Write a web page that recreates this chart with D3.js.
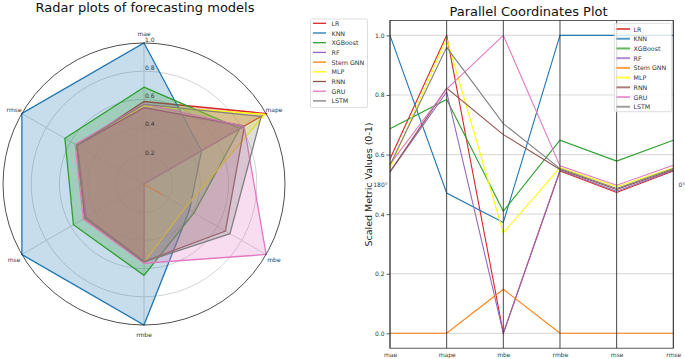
<!DOCTYPE html>
<html>
<head>
<meta charset="utf-8">
<script src="https://cdn.jsdelivr.net/npm/d3@7"></script>
<style>
    body { margin: 0; background: #fff; }
    text { font-family: "DejaVu Sans", sans-serif; }
</style>
</head>
<body>
<div id="chart-area"></div>
<script>

// metrics (axes), models and scaled values
var metrics = ["mae", "mape", "mbe", "rmbe", "mse", "rmse"];
var models = ["LR", "KNN", "XGBoost", "RF", "Stem GNN", "MLP", "RNN", "GRU", "LSTM"];
var colors = ["#d62728", "#1f77b4", "#2ca02c", "#9467bd", "#ff7f0e", "#ffff00", "#8c564b", "#e377c2", "#7f7f7f"];

var lrValues      = [0.585, 1.00, 0.000, 0.545, 0.473, 0.545];
var knnValues     = [1.000, 0.471, 0.372, 1.000, 1.000, 1.000];
var xgbValues     = [0.687, 0.785, 0.410, 0.648, 0.578, 0.648];
var rfValues      = [0.542, 0.810, 0.000, 0.547, 0.477, 0.547];
var stemGnnValues = [0.000, 0.000, 0.148, 0.000, 0.000, 0.000];
var mlpValues     = [0.555, 0.990, 0.337, 0.556, 0.492, 0.556];
var rnnValues     = [0.542, 0.823, 0.667, 0.550, 0.483, 0.550];
var gruValues     = [0.568, 0.820, 1.000, 0.562, 0.497, 0.564];
var lstmValues    = [0.565, 0.960, 0.704, 0.553, 0.486, 0.553];

var radialTicks = [0.2, 0.4, 0.6, 0.8, 1.0];
var yTicks = [0.0, 0.2, 0.4, 0.6, 0.8, 1.0];

var series = [lrValues, knnValues, xgbValues, rfValues, stemGnnValues,
              mlpValues, rnnValues, gruValues, lstmValues];

var data = models.map(function(m, i) {
    return { name: m, color: colors[i], values: series[i] };
});

var svg = d3.select("#chart-area")
    .append("svg")
        .attr("width", 685)
        .attr("height", 359);

/* ---------------- Radar ---------------- */

var cx = 144, cy = 184, R = 141;

var r = d3.scaleLinear().domain([0, 1]).range([0, R]);
var angle = d3.scalePoint().domain(metrics).range([0, 2 * Math.PI * 5 / 6]);

var radar = svg.append("g")
    .attr("transform", "translate(" + cx + "," + cy + ")");

// title
svg.append("text")
    .attr("x", 145)
    .attr("y", 12)
    .attr("text-anchor", "middle")
    .attr("font-size", "13px")
    .attr("fill", "#111")
    .text("Radar plots of forecasting models");

// grid circles
radar.selectAll(".grid")
    .data(radialTicks.slice(0, 4))
    .enter().append("circle")
        .attr("r", d => r(d))
        .attr("fill", "none")
        .attr("stroke", "#c8c8c8")
        .attr("stroke-width", 0.8);

// spokes
radar.selectAll(".spoke")
    .data(metrics)
    .enter().append("line")
        .attr("x1", 0).attr("y1", 0)
        .attr("x2", d => r(1) * Math.sin(angle(d)))
        .attr("y2", d => -r(1) * Math.cos(angle(d)))
        .attr("stroke", "#c8c8c8")
        .attr("stroke-width", 0.8);

var radarLine = d3.lineRadial()
    .angle((d, i) => angle(metrics[i]))
    .radius(d => r(d))
    .curve(d3.curveLinearClosed);

radar.selectAll(".model")
    .data(data)
    .enter().append("path")
        .attr("d", d => radarLine(d.values))
        .attr("fill", d => d.color)
        .attr("fill-opacity", 0.25)
        .attr("stroke", d => d.color)
        .attr("stroke-width", 1.3)
        .attr("stroke-linejoin", "miter");

// outer spine
radar.append("circle")
    .attr("r", r(1))
    .attr("fill", "none")
    .attr("stroke", "#222")
    .attr("stroke-width", 0.8);

// radial tick labels
radar.selectAll(".rlabel")
    .data(radialTicks)
    .enter().append("text")
        .attr("x", 1)
        .attr("y", d => -r(d) - 1.3)
        .attr("font-size", "6px")
        .attr("fill", "#333")
        .text(d3.format(".1f"));

// metric labels
radar.selectAll(".mlabel")
    .data(metrics)
    .enter().append("text")
        .attr("x", d => r(1.064) * Math.sin(angle(d)))
        .attr("y", d => -r(1.064) * Math.cos(angle(d)))
        .attr("text-anchor", "middle")
        .attr("dominant-baseline", "central")
        .attr("font-size", "6px")
        .attr("fill", "#333")
        .text(d => d);

// radar legend
var leg1 = svg.append("g");
leg1.append("rect")
    .attr("x", 310.5).attr("y", 19)
    .attr("width", 57).attr("height", 88.5)
    .attr("rx", 1.5)
    .attr("fill", "#fff")
    .attr("stroke", "#d0d0d0")
    .attr("stroke-width", 0.7);

var leg1Items = leg1.selectAll(".item")
    .data(data)
    .enter().append("g")
        .attr("transform", (d, i) => "translate(0," + (23.3 + i * 9.7) + ")");

leg1Items.append("line")
    .attr("x1", 313).attr("x2", 326)
    .attr("stroke", d => d.color)
    .attr("stroke-width", 1.3);

leg1Items.append("text")
    .attr("x", 331.5)
    .attr("dominant-baseline", "central")
    .attr("font-size", "6.3px")
    .attr("fill", "#333")
    .text(d => d.name);

/* ---------------- Parallel coordinates ---------------- */

var pLeft = 390, pRight = 673.3, pTop = 20.5, pBottom = 348.2;

var x = d3.scalePoint().domain(metrics).range([pLeft, pRight]);
var y = d3.scaleLinear().domain([-0.05, 1.05]).range([pBottom, pTop]);

var par = svg.append("g");

svg.append("text")
    .attr("x", 528.5)
    .attr("y", 16)
    .attr("text-anchor", "middle")
    .attr("font-size", "13px")
    .attr("fill", "#111")
    .text("Parallel Coordinates Plot");

// leftover polar angle labels
svg.append("text")
    .attr("x", 380.5).attr("y", 184)
    .attr("text-anchor", "middle")
    .attr("dominant-baseline", "central")
    .attr("font-size", "6px")
    .attr("fill", "#333")
    .text("180°");
svg.append("text")
    .attr("x", 682).attr("y", 184)
    .attr("text-anchor", "middle")
    .attr("dominant-baseline", "central")
    .attr("font-size", "6px")
    .attr("fill", "#333")
    .text("0°");

// horizontal grid
par.selectAll(".hgrid")
    .data(yTicks)
    .enter().append("line")
        .attr("x1", pLeft).attr("x2", pRight)
        .attr("y1", d => y(d)).attr("y2", d => y(d))
        .attr("stroke", "#dcdcdc")
        .attr("stroke-width", 1.2);

// model lines
var pline = d3.line()
    .x((d, i) => x(metrics[i]))
    .y(d => y(d));

par.selectAll(".pline")
    .data(data)
    .enter().append("path")
        .attr("d", d => pline(d.values))
        .attr("fill", "none")
        .attr("stroke", d => d.color)
        .attr("stroke-width", 1.1);

// vertical axes
par.selectAll(".vaxis")
    .data(metrics)
    .enter().append("line")
        .attr("x1", d => x(d)).attr("x2", d => x(d))
        .attr("y1", pTop).attr("y2", pBottom)
        .attr("stroke", "#333")
        .attr("stroke-width", 0.9);

// frame
par.append("rect")
    .attr("x", pLeft).attr("y", pTop)
    .attr("width", pRight - pLeft).attr("height", pBottom - pTop)
    .attr("fill", "none")
    .attr("stroke", "#333")
    .attr("stroke-width", 0.8);

var yAxisCall = d3.axisLeft(y)
    .tickValues(yTicks)
    .tickFormat(d3.format(".1f"))
    .tickSize(3.5)
    .tickPadding(2);

var yAxisGroup = par.append("g")
    .attr("transform", "translate(" + pLeft + ",0)")
    .call(yAxisCall);

var xAxisCall = d3.axisBottom(x)
    .tickSize(0)
    .tickPadding(5);

var xAxisGroup = par.append("g")
    .attr("transform", "translate(0," + pBottom + ")")
    .call(xAxisCall);

[yAxisGroup, xAxisGroup].forEach(function(gr) {
    gr.select(".domain").remove();
    gr.selectAll("text")
        .attr("font-family", "DejaVu Sans")
        .attr("font-size", "6px")
        .attr("fill", "#333");
    gr.selectAll("line").attr("stroke", "#333").attr("stroke-width", 0.8);
});

// Y Label
svg.append("text")
    .attr("x", -184.5)
    .attr("y", 371.5)
    .attr("transform", "rotate(-90)")
    .attr("text-anchor", "middle")
    .attr("font-size", "9.5px")
    .attr("fill", "#222")
    .text("Scaled Metric Values (0-1)");

// parallel legend
var leg2 = svg.append("g");
leg2.append("rect")
    .attr("x", 614.3).attr("y", 23.3)
    .attr("width", 57.4).attr("height", 88.4)
    .attr("rx", 1.5)
    .attr("fill", "#fff")
    .attr("fill-opacity", 0.8)
    .attr("stroke", "#d0d0d0")
    .attr("stroke-width", 0.7);

var leg2Items = leg2.selectAll(".item")
    .data(data)
    .enter().append("g")
        .attr("transform", (d, i) => "translate(0," + (29 + i * 9.72) + ")");

leg2Items.append("line")
    .attr("x1", 616.5).attr("x2", 630)
    .attr("stroke", d => d.color)
    .attr("stroke-opacity", 0.75)
    .attr("stroke-width", 2);

leg2Items.append("text")
    .attr("x", 633.5)
    .attr("dominant-baseline", "central")
    .attr("font-size", "6.3px")
    .attr("fill", "#333")
    .text(d => d.name);

</script>
</body>
</html>
